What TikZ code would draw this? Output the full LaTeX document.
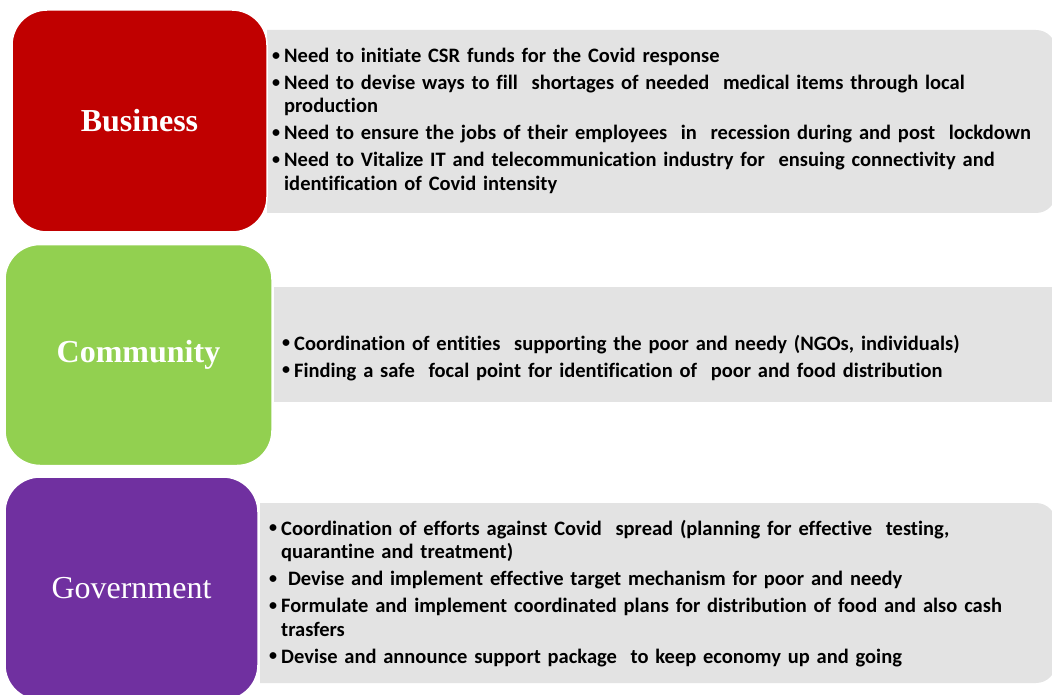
\documentclass[tikz,border=0pt]{standalone}
\usepackage{fontspec}
\setmainfont{Carlito}[Ligatures=NoCommon]
\newfontfamily\labelfont{Liberation Serif}
\definecolor{busred}{HTML}{C00000}
\definecolor{comgreen}{HTML}{92D050}
\definecolor{govpurple}{HTML}{7030A0}
\definecolor{panelgray}{HTML}{E3E3E3}
\newlength{\bind}
\setlength{\bind}{12pt}
\newcommand{\bdot}{\raisebox{0.12em}{\scalebox{0.78}{\textbullet}}}
\newcommand{\bitem}[1]{\hangindent=\bind\hangafter=1\noindent\makebox[\bind][l]{\bdot}#1\par}
\tikzset{
	sector/.style={rounded corners=35pt, draw=white, line width=1.5pt, text=white, inner sep=0pt, font=\labelfont\fontsize{32}{38}\selectfont},
	panel/.style={fill=panelgray},
	points/.style={anchor=base west, inner sep=0pt, text width=790pt, font=\bfseries\fontsize{20.5}{23.5}\selectfont, execute at begin node={\raggedright\setlength{\parskip}{3.5pt}}}
}
\begin{document}
\begin{tikzpicture}[x=1pt,y=-1pt]
	\useasboundingbox (0,0) rectangle (1052,695);
	\begin{scope}
	% grey panels behind the sector boxes
	\fill[panel] (267,30) [rounded corners=20pt] -- (1056,30) -- (1056,213) [sharp corners] -- (267,213) -- cycle;
	\fill[panel] (274,287) rectangle (1060,402);
	\fill[panel] (260,503) [rounded corners=20pt] -- (1056,503) -- (1056,683) [sharp corners] -- (260,683) -- cycle;

	\foreach \n/\c/\x/\y/\w/\h/\t in {business/busred/139.5/121/255/222/\textbf{Business}, community/comgreen/138.5/355/267/221/\textbf{Community}, government/govpurple/131.5/588.5/253/223/Government}
	{
		\node [sector, fill=\c, minimum width=\w pt, minimum height=\h pt] (\n) at (\x,\y) {\t};
	}

	\node [points] (busList) at (272,62.5) {\bitem{Need to initiate CSR funds for the Covid response}\bitem{Need to devise ways to fill~ shortages of needed~ medical items through local\newline production}\bitem{Need to ensure the jobs of their employees~ in~ recession during and post~ lockdown}\bitem{Need to Vitalize IT and telecommunication industry for~ ensuing connectivity and\newline identification of Covid intensity}};
	\node [points] (comList) at (282,350) {\bitem{Coordination of entities~ supporting the poor and needy (NGOs, individuals)}\bitem{Finding a safe~ focal point for identification of~ poor and food distribution}};
	\node [points] (govList) at (269,535) {\bitem{Coordination of efforts against Covid~ spread (planning for effective~ testing,\newline quarantine and treatment)}\bitem{\ Devise and implement effective target mechanism for poor and needy}\bitem{Formulate and implement coordinated plans for distribution of food and also cash\newline trasfers}\bitem{Devise and announce support package~ to keep economy up and going}};
	\end{scope}
\end{tikzpicture}
\end{document}
